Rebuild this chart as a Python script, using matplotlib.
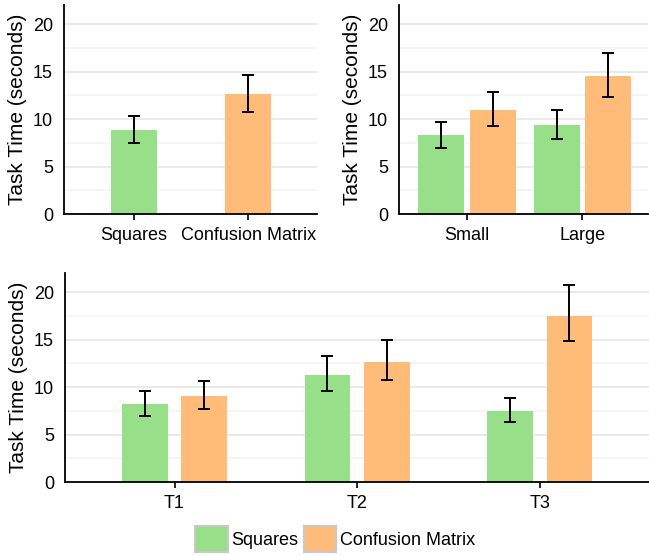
from matplotlib import pyplot as plt
from matplotlib.patches import Patch
from matplotlib.ticker import MultipleLocator
import numpy as np

plt.rcParams['font.family'] = ['Liberation Sans', 'DejaVu Sans']

GREEN = "#98df8a"
ORANGE = "#ffbb78"

series_names = ["Squares", "Confusion Matrix"]

# overall
overall_labels = ["Squares", "Confusion Matrix"]
overall_mean = [8.8, 12.6]
overall_lo = [7.5, 10.7]
overall_hi = [10.3, 14.6]

# by size
size_labels = ["Small", "Large"]
size_squares = [8.3, 9.4]
size_squares_lo = [7.0, 7.9]
size_squares_hi = [9.7, 11.0]
size_matrix = [10.9, 14.5]
size_matrix_lo = [9.25, 12.3]
size_matrix_hi = [12.8, 17.0]

# by task
task_labels = ["T1", "T2", "T3"]
task_squares = [8.2, 11.25, 7.45]
task_squares_lo = [6.9, 9.6, 6.35]
task_squares_hi = [9.6, 13.3, 8.85]
task_matrix = [9.05, 12.65, 17.5]
task_matrix_lo = [7.65, 10.7, 14.8]
task_matrix_hi = [10.65, 14.9, 20.7]


def styleAxis(ax, labels, xlim):
    ax.set_ylim(0, 22)
    ax.set_xlim(xlim)
    ax.set_xticks(np.arange(len(labels)))
    ax.set_xticklabels(labels, fontsize=13)
    ax.yaxis.set_major_locator(MultipleLocator(5))
    ax.yaxis.set_minor_locator(MultipleLocator(2.5))
    ax.grid(axis="y", which="major", color="#e4e4e4", linewidth=1.1)
    ax.grid(axis="y", which="minor", color="#f4f4f4", linewidth=1.1)
    ax.set_axisbelow(True)
    for side in ["top", "right"]:
        ax.spines[side].set_visible(False)
    for side in ["left", "bottom"]:
        ax.spines[side].set_linewidth(1.3)
    ax.tick_params(axis="y", which="both", length=0, labelsize=13, pad=8)
    ax.tick_params(axis="x", length=4, width=1.2, labelsize=13, pad=5)
    ax.set_ylabel("Task Time (seconds)", fontsize=15, labelpad=4)


def errBars(ax, x, mean, lo, hi):
    mean = np.array(mean)
    yerr = [mean - np.array(lo), np.array(hi) - mean]
    ax.errorbar(x, mean, yerr=yerr, fmt="none", ecolor="black",
                elinewidth=1.4, capsize=4.5, capthick=1.4)


fig = plt.figure(figsize=(6.49, 5.56), dpi=100)

# top left
ax1 = fig.add_axes([0.0986, 0.615, 0.390, 0.376])
x = np.arange(len(overall_labels))
ax1.bar(x, overall_mean, width=0.4, color=[GREEN, ORANGE])
errBars(ax1, x, overall_mean, overall_lo, overall_hi)
styleAxis(ax1, overall_labels, (-0.61, 1.6))

# top right
ax2 = fig.add_axes([0.6148, 0.615, 0.3837, 0.376])
x = np.arange(len(size_labels))
off = 0.222
ax2.bar(x - off, size_squares, width=0.4, color=GREEN)
ax2.bar(x + off, size_matrix, width=0.4, color=ORANGE)
errBars(ax2, x - off, size_squares, size_squares_lo, size_squares_hi)
errBars(ax2, x + off, size_matrix, size_matrix_lo, size_matrix_hi)
styleAxis(ax2, size_labels, (-0.59, 1.57))

# bottom
ax3 = fig.add_axes([0.1002, 0.133, 0.900, 0.376])
x = np.arange(len(task_labels))
off = 0.163
ax3.bar(x - off, task_squares, width=0.25, color=GREEN)
ax3.bar(x + off, task_matrix, width=0.25, color=ORANGE)
errBars(ax3, x - off, task_squares, task_squares_lo, task_squares_hi)
errBars(ax3, x + off, task_matrix, task_matrix_lo, task_matrix_hi)
styleAxis(ax3, task_labels, (-0.6, 2.6))

handles = [Patch(facecolor=GREEN, edgecolor="#c8c8c8", linewidth=1.5),
           Patch(facecolor=ORANGE, edgecolor="#c8c8c8", linewidth=1.5)]
fig.legend(handles, series_names, loc="center", bbox_to_anchor=(0.516, 0.031),
           ncol=2, frameon=False, fontsize=13, handlelength=1.8, handleheight=1.8,
           handletextpad=0.2, columnspacing=0.3, borderpad=0)

fig.savefig("out.png", dpi=100)
